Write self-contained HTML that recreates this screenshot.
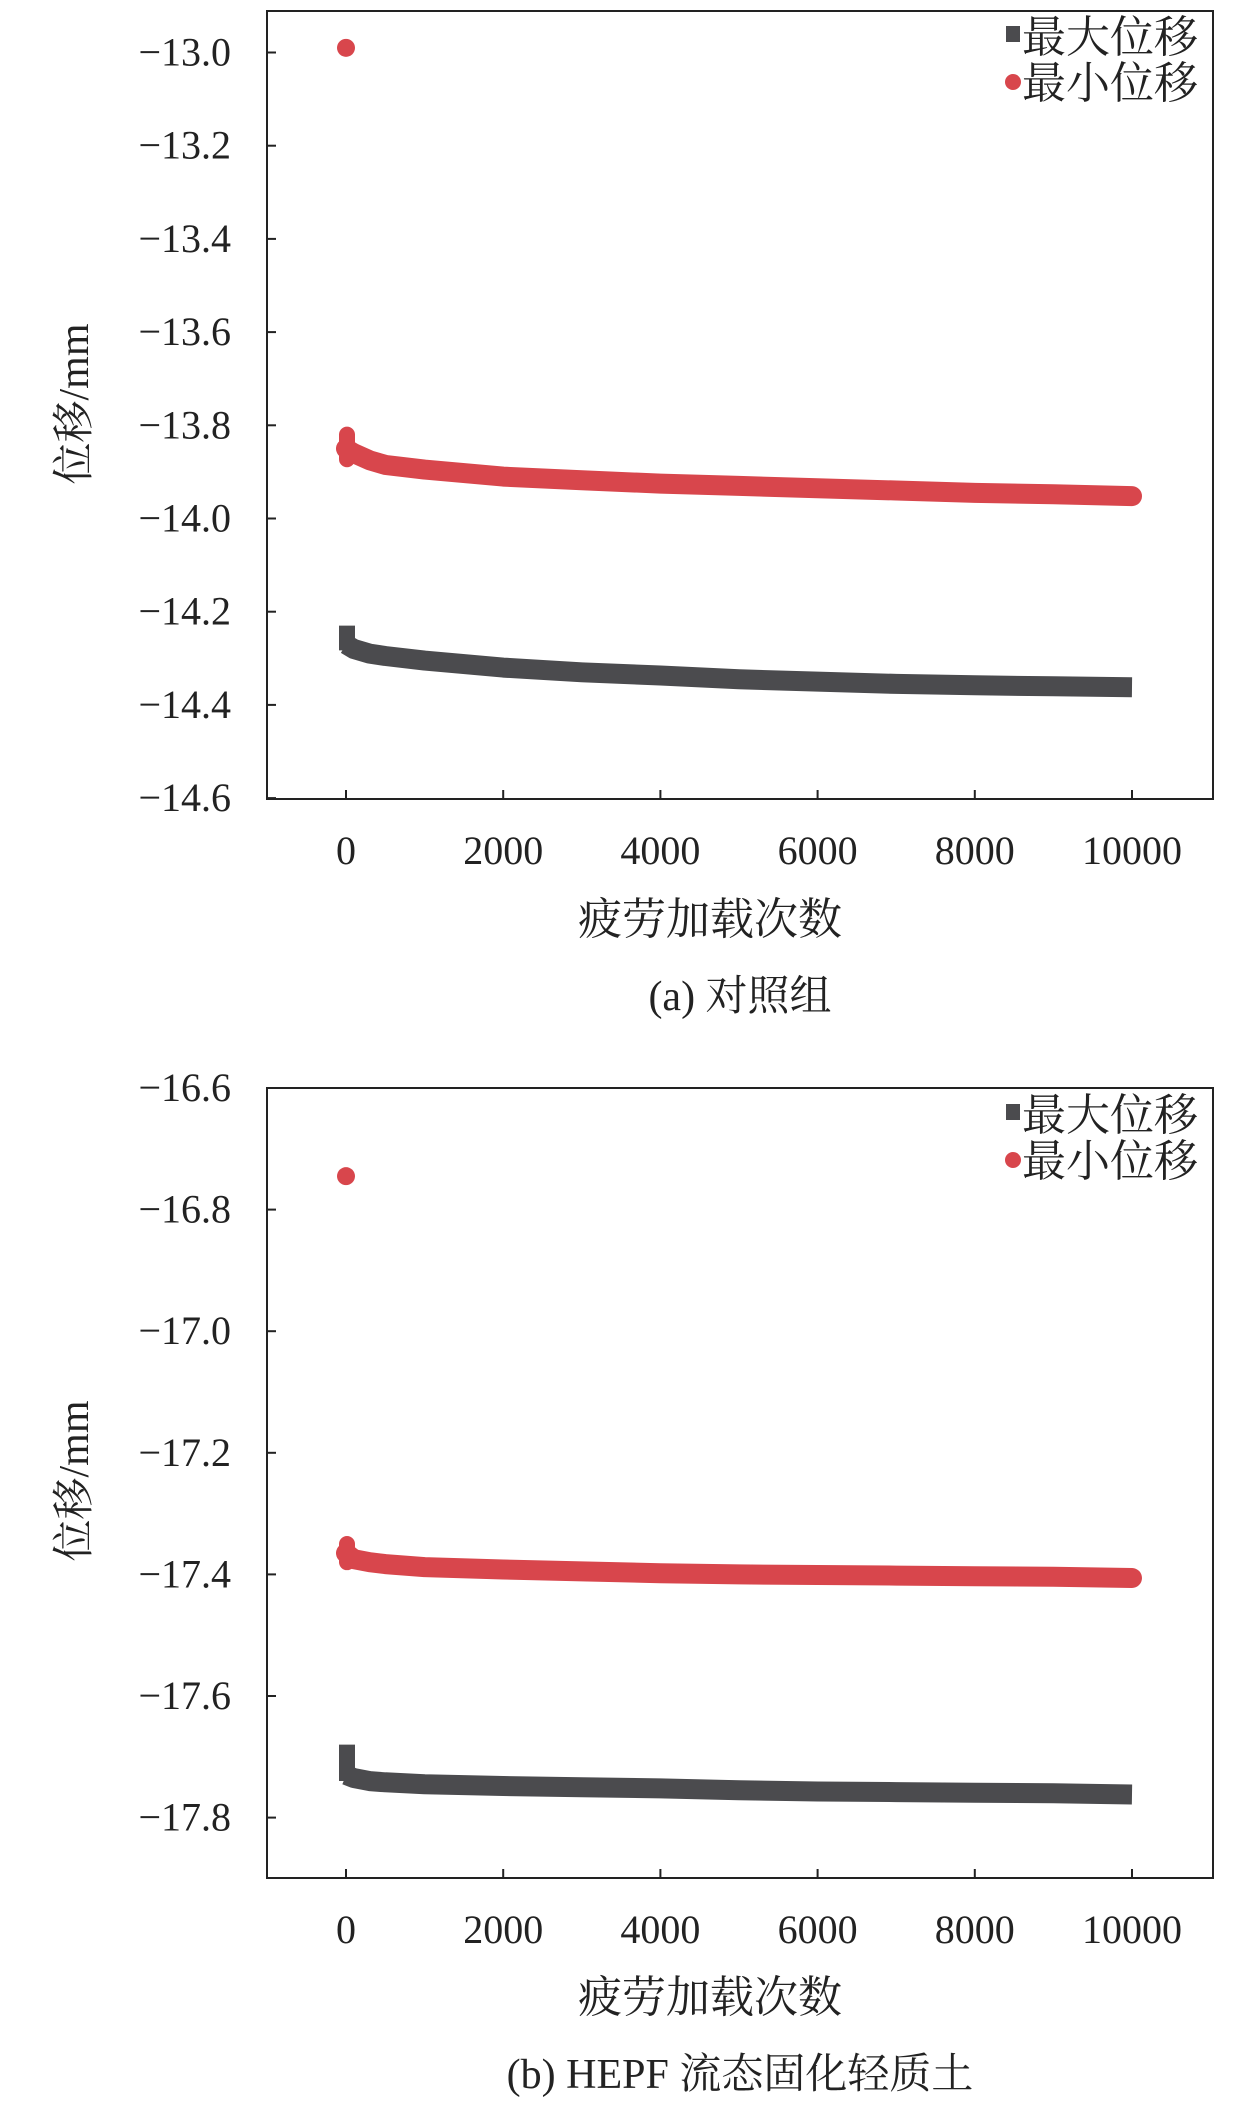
<!DOCTYPE html>
<html><head><meta charset="utf-8"><style>
body{margin:0;background:#fff;}
svg{display:block;}
text{font-family:"Liberation Serif","Noto Serif CJK SC",serif;fill:#222;}
</style></head><body>
<svg id="fig" width="1259" height="2102" viewBox="0 0 1259 2102"></svg>
<script>
const xTicks=[0,2000,4000,6000,8000,10000];
const aYTicks=[-13.0,-13.2,-13.4,-13.6,-13.8,-14.0,-14.2,-14.4,-14.6];
const bYTicks=[-16.6,-16.8,-17.0,-17.2,-17.4,-17.6,-17.8];
const cycles=[0,100,300,500,1000,2000,3000,4000,5000,6000,7000,8000,9000,10000];
const aMin=[-13.85,-13.86,-13.875,-13.885,-13.895,-13.91,-13.918,-13.925,-13.93,-13.935,-13.94,-13.945,-13.948,-13.952];
const aMax=[-14.27,-14.28,-14.29,-14.295,-14.305,-14.32,-14.33,-14.337,-14.345,-14.35,-14.355,-14.358,-14.36,-14.362];
const aMinOutlier=-12.99;
const aMinSpike=[-13.82,-13.86];
const aMaxSpike=[-14.23,-14.27];
const bMin=[-17.365,-17.375,-17.38,-17.383,-17.388,-17.392,-17.395,-17.398,-17.4,-17.401,-17.402,-17.403,-17.404,-17.406];
const bMax=[-17.73,-17.735,-17.74,-17.742,-17.745,-17.748,-17.75,-17.752,-17.755,-17.757,-17.758,-17.759,-17.76,-17.762];
const bMinOutlier=-16.745;
const bMinSpike=[-17.35,-17.37];
const bMaxSpike=[-17.68,-17.73];

const NS='http://www.w3.org/2000/svg';
const svg=document.getElementById('fig');
function mk(tag,attrs,parent){const e=document.createElementNS(NS,tag);for(const k in attrs)e.setAttribute(k,attrs[k]);(parent||svg).appendChild(e);return e;}

function panel(p){
  const g=mk('g',{});
  
  
  const L=267,R=1213,T=p.top,B=p.bottom;
  const xs=v=>346+(v-0)/10000*786;
  const ys=v=>p.y0px+(p.y0-v)/0.2*p.step;
  const frame=mk('rect',{x:L,y:T,width:R-L,height:B-T,fill:'none',stroke:'#222','stroke-width':2},g);
  
  
  p.yTicks.forEach(t=>{
    const y=ys(t);
    const tk=mk('line',{x1:L,x2:L+9,y1:y,y2:y,stroke:'#222','stroke-width':2},g);
    
    
    const lb=mk('text',{x:231,y:y+13,'text-anchor':'end','font-size':40},g);
    lb.textContent='\u2212'+Math.abs(t).toFixed(1);
    
    
  });
  xTicks.forEach(t=>{
    const x=xs(t);
    const tk=mk('line',{x1:x,x2:x,y1:B,y2:B-9,stroke:'#222','stroke-width':2},g);
    
    
    const lb=mk('text',{x:x,y:p.xLabY,'text-anchor':'middle','font-size':40},g);
    lb.textContent=String(t);
    
    
  });
  function band(vals,color,name,spike){
    const round=name.includes('min');
    const pts=cycles.map((c,i)=>xs(c).toFixed(1)+','+ys(vals[i]).toFixed(1)).join(' ');
    const pl=mk('polyline',{points:pts,fill:'none',stroke:color,'stroke-width':20,'stroke-linejoin':'round','stroke-linecap':round?'round':'butt'},g);
    
    
    const sp=mk('line',{x1:xs(0)+1,x2:xs(0)+1,y1:ys(spike[0]),y2:ys(spike[1])+6,stroke:color,'stroke-width':16,'stroke-linecap':round?'round':'butt'},g);
    
    
  }
  band(p.max,'#4b4b4e','max-displacement-series',p.maxSpike);
  band(p.min,'#d8464c','min-displacement-series',p.minSpike);
  const o=mk('circle',{cx:xs(0),cy:ys(p.outlier),r:9,fill:'#d8464c'},g);
  
  
  const lg=mk('g',{},g);
  
  
  const sq=mk('rect',{x:1006,y:p.legY1-10,width:14,height:16,fill:'#4b4b4e'},lg);
  
  
  const t1=mk('text',{x:1022,y:p.legY1+16,'font-size':44},lg);
  t1.textContent='最大位移';
  
  
  const cc=mk('circle',{cx:1013,cy:p.legY2,r:8,fill:'#d8464c'},lg);
  
  
  const t2=mk('text',{x:1022,y:p.legY2+16,'font-size':44},lg);
  t2.textContent='最小位移';
  
  
  const yt=mk('text',{x:0,y:0,'text-anchor':'middle','font-size':42,transform:'translate(88,'+p.yTitleY+') rotate(-90)'},g);
  yt.textContent='位移/mm';
  
  
  const xt=mk('text',{x:710,y:p.xTitleY,'text-anchor':'middle','font-size':44},g);
  xt.textContent='疲劳加载次数';
  
  
  const cap=mk('text',{x:740,y:p.capY,'text-anchor':'middle','font-size':42},g);
  cap.textContent=p.caption;
  
  
}
panel({name:'panel-a-control',top:11,bottom:799,y0:-13.0,y0px:52.5,step:93.2,yTicks:aYTicks,min:aMin,max:aMax,outlier:aMinOutlier,minSpike:aMinSpike,maxSpike:aMaxSpike,xLabY:864,xTitleY:934,capY:1010,legY1:36,legY2:82,yTitleY:404,caption:'(a) 对照组'});
panel({name:'panel-b-hepf',top:1088,bottom:1878,y0:-16.6,y0px:1088,step:121.6,yTicks:bYTicks,min:bMin,max:bMax,outlier:bMinOutlier,minSpike:bMinSpike,maxSpike:bMaxSpike,xLabY:1943,xTitleY:2012,capY:2088,legY1:1114,legY2:1160,yTitleY:1481,caption:'(b) HEPF 流态固化轻质土'});
</script>
</body></html>
